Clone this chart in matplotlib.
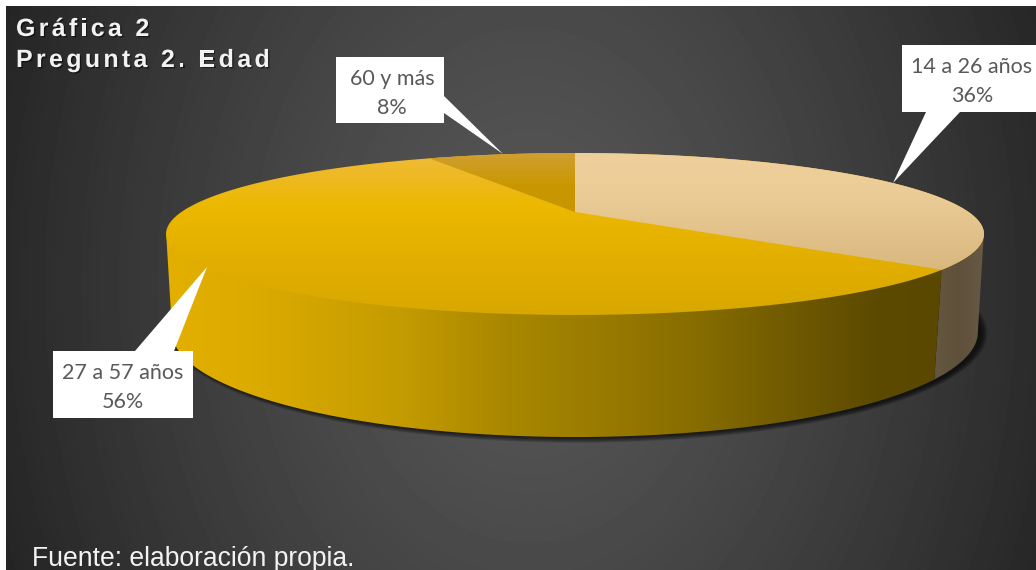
import numpy as np
import matplotlib
matplotlib.use("Agg")
import matplotlib.pyplot as plt
from matplotlib.colors import LinearSegmentedColormap
from matplotlib.patches import Polygon, Ellipse, Rectangle
from matplotlib.text import Text
from matplotlib.transforms import IdentityTransform, Bbox
import matplotlib.patheffects as pe

# ---- data ----
categories = ["14 a 26 años", "27 a 57 años", "60 y más"]
values = [36.0, 56.4, 7.6]

title_lines = ["Gráfica 2", "Pregunta 2. Edad"]
source = "Fuente: elaboración propia."

# ---- layout / style ----
W, H = 1036, 570
CX = 575
TOP = dict(k=393.6, a=17.4, b=212.0, c=-0.2716)   # perspective of top rim
BOT = dict(k=389.0, a=18.7, b=304.7, c=-0.26)     # perspective of bottom rim

top_stops = [
    [(153, "#efcf9b"), (200, "#ebcb95"), (270, "#d8b87e")],
    [(153, "#efbb3a"), (180, "#eeb91f"), (205, "#ecb800"), (260, "#e2af00"), (315, "#d8a800")],
    [(153, "#d09f32"), (185, "#c99800"), (215, "#c69500")],
]
wall_stops = [
    [(930, "#655840"), (960, "#5e503a"), (990, "#6a5d47")],
    [(165, "#e3b000"), (250, "#dcab00"), (400, "#c49b00"), (500, "#aa8800"), (600, "#9a7b00"),
     (700, "#866c00"), (800, "#6e5800"), (880, "#5c4a00"), (945, "#5a4800")],
]
callouts = [
    dict(box=(902, 45, 1037, 112), tail=[(926, 112), (960, 112), (893, 183)], text=(972, 81.5)),
    dict(box=(53, 351, 193, 418), tail=[(135, 351), (174, 351), (207, 267)], text=(123, 387.5)),
    dict(box=(336, 57, 444, 123), tail=[(444, 96), (444, 113), (503, 154)], text=(392, 93.5)),
]


def rim(theta, p):
    u, v = np.sin(theta), -np.cos(theta)
    d = 1 + p["c"] * v
    return np.column_stack([CX + p["k"] * u / d, (p["a"] * v + p["b"]) / d])


class SpacedText(Text):
    """Single text drawn with extra letter spacing (pixels)."""
    def __init__(self, x, y, s, spacing=0, **kw):
        super().__init__(x, y, s, **kw)
        self.spacing = spacing

    def draw(self, renderer):
        x0, y0 = self.get_transform().transform((self.get_position()))
        s = self.get_text()
        prop = self.get_fontproperties()
        for i, ch in enumerate(s):
            w = renderer.get_text_width_height_descent(s[:i], prop, False)[0] if i else 0
            t = Text(x0 + w + i * self.spacing, y0, ch, fontproperties=prop,
                     color=self.get_color(), va="baseline", ha="left",
                     transform=IdentityTransform())
            t.set_figure(self.get_figure())
            t.set_path_effects(self.get_path_effects())
            t.draw(renderer)

    def get_window_extent(self, renderer=None, dpi=None):
        b = super().get_window_extent(renderer, dpi)
        return Bbox.from_extents(b.x0, b.y0, b.x1 + self.spacing * (len(self.get_text()) - 1), b.y1)


fig = plt.figure(figsize=(W / 100, H / 100), dpi=100, facecolor="white")
ax = fig.add_axes([0, 0, 1, 1])
ax.set_xlim(0, W)
ax.set_ylim(H, 0)
ax.axis("off")


def grad(stops, vertical, lo, hi, clip, z):
    pos = [(s[0] - lo) / (hi - lo) for s in stops]
    pos = np.clip(pos, 0, 1)
    pos[0], pos[-1] = 0, 1
    cm = LinearSegmentedColormap.from_list("g", list(zip(pos, [s[1] for s in stops])))
    g = np.linspace(0, 1, 256)
    arr = g[:, None] if vertical else g[None, :]
    ext = (0, W, hi, lo) if vertical else (lo, hi, H, 0)
    im = ax.imshow(arr, cmap=cm, extent=ext, aspect="auto", zorder=z, vmin=0, vmax=1,
                   interpolation="bilinear")
    p = Polygon(clip, closed=True, transform=ax.transData, fc="none", ec="none")
    ax.add_patch(p)
    im.set_clip_path(p)
    return im


# background radial gradient
yy, xx = np.mgrid[6:H, 6:W]
r = np.sqrt(((xx - 530) / 520.0) ** 2 + ((yy - 285) / 700.0) ** 2)
bg = np.clip(0x57 - (0x57 - 0x2a) * r ** 1.3, 0, 255) / 255
ax.imshow(bg, cmap="gray", vmin=0, vmax=1, extent=(6, W, H, 6), aspect="auto", zorder=0)

# soft shadow under the pie
for i in range(7):
    ax.add_patch(Ellipse((579, 333), 2 * (402.5 + i), 2 * (105 + i * 0.8), fc="black",
                         ec="none", alpha=0.13, zorder=1))

# slices
fr = np.cumsum([0] + values) / sum(values) * 2 * np.pi
top_s, bot_s = np.arccos(TOP["c"]), np.arccos(BOT["c"])
lift = np.array([0, -2.5])   # walls run slightly under the top face

# walls (only the visible front part)
th_a = np.linspace(top_s, fr[1], 40)
tb_a = np.linspace(fr[1], bot_s, 40)
grad(wall_stops[0], False, 930, 990, np.vstack([rim(th_a, TOP) + lift, rim(tb_a, BOT)]), 2)
th_b = np.linspace(fr[1], 2 * np.pi - top_s, 300)
tb_b = np.linspace(2 * np.pi - bot_s, fr[1], 300)
grad(wall_stops[1], False, 165, 945, np.vstack([rim(th_b, TOP) + lift, rim(tb_b, BOT)]), 2)

# top faces
apex = rim(np.array([0.0]), dict(k=0, a=0, b=TOP["b"], c=0))
for i in range(len(values)):
    th = np.linspace(fr[i], fr[i + 1], 300)
    poly = np.vstack([apex, rim(th, TOP)])
    stops = top_stops[i]
    if i == 1:  # gold lies under the neighbours so no seam shows
        poly = rim(np.linspace(0, 2 * np.pi, 600), TOP)
    grad(stops, True, stops[0][0], stops[-1][0], poly, 3.5 if i != 1 else 3)

# callouts
label_color = "#595959"
for cat, val, c in zip(categories, values, callouts):
    x0, y0, x1, y1 = c["box"]
    ax.add_patch(Polygon(c["tail"], closed=True, fc="white", ec="none", zorder=5))
    ax.add_patch(Rectangle((x0, y0), x1 - x0, y1 - y0, fc="white", ec="none", zorder=5))
    ax.text(c["text"][0], c["text"][1], f"{cat}\n{val:.0f}%", family="Lato", fontsize=15.5,
            color=label_color, ha="center", va="center", multialignment="center",
            linespacing=1.6, zorder=6)

# titles
shadow = [pe.withSimplePatchShadow(offset=(1, -1), shadow_rgbFace="black", alpha=0.5)]
for line, base in zip(title_lines, (36, 67)):
    t = SpacedText(16, base, line, spacing=3.3, family="Liberation Sans", weight="bold",
                   fontsize=18, color="#f2f2f2", va="baseline", ha="left", zorder=7)
    t.set_path_effects(shadow)
    ax.add_artist(t)

ax.text(32, 565.5, source, family="Liberation Sans", fontsize=19.1, color="#f2f2f2",
        ha="left", va="baseline", zorder=7)

ax.set_xlim(0, W)
ax.set_ylim(H, 0)
fig.savefig("out.png", dpi=100, facecolor="white")
